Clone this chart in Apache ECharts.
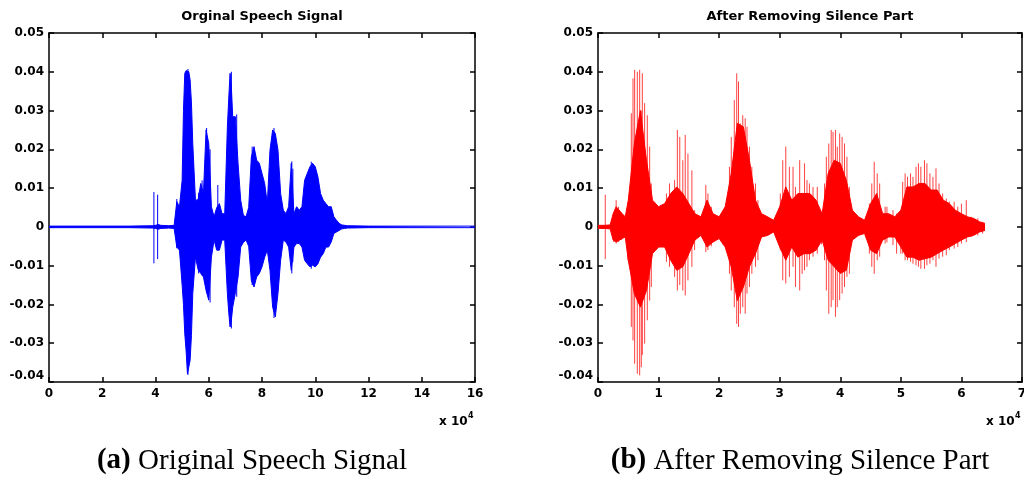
<!DOCTYPE html>
<html>
<head>
<meta charset="utf-8">
<script src="https://cdn.jsdelivr.net/npm/echarts@6/dist/echarts.min.js"></script>
<style>
  html, body { margin: 0; padding: 0; background: #fff; }
  #main { width: 1024px; height: 477px; }
</style>
</head>
<body>
<div id="main"></div>
<script>
// sample index in units of 1e4, amplitude envelopes
const leftPos = [0, 3.0, 3.9, 4.0, 4.1, 4.2, 4.5,
  4.7, 4.8, 4.9, 5.0, 5.05, 5.1, 5.15, 5.2, 5.25, 5.3, 5.35, 5.4, 5.5, 5.6, 5.7, 5.8, 5.9, 6.0,
  6.1, 6.2, 6.3, 6.4, 6.5, 6.6, 6.7, 6.75, 6.8, 6.85, 6.9, 7.0, 7.1, 7.2, 7.3, 7.4,
  7.5, 7.6, 7.7, 7.8, 7.9, 8.0, 8.1, 8.2, 8.3, 8.4, 8.5, 8.6, 8.7, 8.8,
  8.9, 9.0, 9.1, 9.2, 9.3, 9.4, 9.5, 9.6, 9.7, 9.8, 9.9, 10.0, 10.1, 10.2,
  10.3, 10.4, 10.5, 10.6, 10.7, 10.8, 10.9, 11.0, 11.1, 11.2, 12.0, 16.0]
const leftUpper = [0.0002, 0.0002, 0.0003, 0.0004, 0.0006, 0.0004, 0.0003,
  0.0004, 0.0065, 0.0052, 0.0120, 0.0300, 0.0396, 0.0403, 0.0405, 0.0400, 0.0379, 0.0320, 0.0215, 0.0069, 0.0070, 0.0112, 0.0086, 0.0250, 0.0215,
  0.0052, 0.0026, 0.0050, 0.0060, 0.0034, 0.0034, 0.0258, 0.0330, 0.0396, 0.0360, 0.0284, 0.0284, 0.0164, 0.0069, 0.0030, 0.0026,
  0.0050, 0.0180, 0.0207, 0.0172, 0.0164, 0.0138, 0.0112, 0.0060, 0.0198, 0.0250, 0.0241, 0.0198, 0.0086, 0.0043,
  0.0034, 0.0052, 0.0164, 0.0034, 0.0052, 0.0043, 0.0052, 0.0120, 0.0138, 0.0155, 0.0164, 0.0155, 0.0129, 0.0086,
  0.0069, 0.0060, 0.0052, 0.0052, 0.0026, 0.0017, 0.0009, 0.0005, 0.0004, 0.0003, 0.0002, 0.0002]
const leftLower = [-0.0002, -0.0002, -0.0003, -0.0004, -0.0006, -0.0004, -0.0003,
  -0.0004, -0.0052, -0.0060, -0.0150, -0.0200, -0.0276, -0.0320, -0.0379, -0.0380, -0.0344, -0.0280, -0.0172, -0.0078, -0.0110, -0.0120, -0.0129, -0.0164, -0.0189,
  -0.0078, -0.0034, -0.0060, -0.0060, -0.0034, -0.0034, -0.0172, -0.0220, -0.0258, -0.0240, -0.0207, -0.0170, -0.0130, -0.0052, -0.0040, -0.0034,
  -0.0050, -0.0138, -0.0155, -0.0129, -0.0120, -0.0103, -0.0078, -0.0060, -0.0112, -0.0207, -0.0232, -0.0172, -0.0086, -0.0034,
  -0.0039, -0.0052, -0.0112, -0.0052, -0.0043, -0.0043, -0.0052, -0.0086, -0.0095, -0.0103, -0.0099, -0.0103, -0.0095, -0.0078,
  -0.0069, -0.0052, -0.0052, -0.0039, -0.0017, -0.0013, -0.0009, -0.0005, -0.0004, -0.0003, -0.0002, -0.0002]
// [position, top, bottom] of isolated peaks
const leftSpikes = [
  [3.94, 0.0090, -0.0094], [4.08, 0.0083, -0.0083], [4.80, 0.0072, -0.0055], [5.22, 0.0407, -0.0382],
  [5.62, 0.0088, -0.0120], [5.75, 0.0120, -0.0125], [5.92, 0.0255, -0.0170], [6.05, 0.0200, -0.0195],
  [6.34, 0.0108, -0.0060], [6.85, 0.0400, -0.0262], [7.05, 0.0290, -0.0180], [7.63, 0.0207, -0.0150],
  [8.45, 0.0255, -0.0235], [9.12, 0.0169, -0.0120], [9.16, 0.0150, -0.0090], [9.85, 0.0168, -0.0108]
]

const rightPos = [0, 0.1, 0.2, 0.25, 0.3, 0.4, 0.45, 0.5, 0.6, 0.7, 0.8, 0.9,
  1.0, 1.1, 1.2, 1.3, 1.4, 1.5, 1.6, 1.7, 1.8, 1.9, 2.0, 2.1, 2.2, 2.3, 2.4,
  2.5, 2.6, 2.7, 2.8, 2.9, 3.0, 3.1, 3.2, 3.3, 3.4, 3.5, 3.6, 3.7, 3.8, 3.9,
  4.0, 4.1, 4.2, 4.3, 4.4, 4.5, 4.6, 4.7, 4.8, 4.9, 5.0, 5.1, 5.2, 5.3, 5.4,
  5.5, 5.6, 5.7, 5.8, 5.9, 6.0, 6.1, 6.2, 6.3, 6.39]
const rightUpper = [0.0004, 0.0004, 0.0005, 0.0034, 0.0052, 0.0034, 0.0026, 0.0069, 0.0215, 0.0300, 0.0172, 0.0069,
  0.0052, 0.0060, 0.0086, 0.0103, 0.0086, 0.0060, 0.0034, 0.0026, 0.0069, 0.0034, 0.0026, 0.0052, 0.0138, 0.0267, 0.0258,
  0.0172, 0.0069, 0.0034, 0.0026, 0.0017, 0.0052, 0.0103, 0.0069, 0.0086, 0.0086, 0.0086, 0.0069, 0.0034, 0.0138, 0.0172,
  0.0164, 0.0120, 0.0043, 0.0026, 0.0017, 0.0060, 0.0086, 0.0034, 0.0034, 0.0026, 0.0043, 0.0103, 0.0103, 0.0112, 0.0112,
  0.0095, 0.0095, 0.0069, 0.0060, 0.0043, 0.0034, 0.0026, 0.0022, 0.0013, 0.0009]
const rightLower = [-0.0004, -0.0004, -0.0005, -0.0034, -0.0039, -0.0030, -0.0026, -0.0086, -0.0172, -0.0207, -0.0164, -0.0069,
  -0.0052, -0.0052, -0.0086, -0.0112, -0.0103, -0.0069, -0.0034, -0.0022, -0.0052, -0.0039, -0.0030, -0.0052, -0.0103, -0.0190, -0.0155,
  -0.0103, -0.0069, -0.0026, -0.0022, -0.0013, -0.0052, -0.0086, -0.0052, -0.0078, -0.0069, -0.0069, -0.0060, -0.0034, -0.0086, -0.0103,
  -0.0120, -0.0112, -0.0034, -0.0022, -0.0017, -0.0060, -0.0069, -0.0034, -0.0026, -0.0026, -0.0052, -0.0078, -0.0078, -0.0086, -0.0082,
  -0.0078, -0.0069, -0.0060, -0.0052, -0.0043, -0.0034, -0.0026, -0.0022, -0.0013, -0.0009]
const rightSpikes = [
  [0.12, 0.0083, -0.0083], [0.26, 0.0034, -0.0039], [0.30, 0.0069, -0.0043], [0.34, 0.0052, -0.0039],
  [0.385, 0.0034, -0.0034], [0.495, 0.0060, -0.0086], [0.55, 0.0293, -0.0258], [0.578, 0.0383, -0.0293],
  [0.605, 0.0405, -0.0353], [0.649, 0.0400, -0.0379], [0.688, 0.0405, -0.0383], [0.715, 0.0300, -0.0362],
  [0.732, 0.0396, -0.0330], [0.77, 0.0319, -0.0301], [0.814, 0.0288, -0.0241], [0.853, 0.0207, -0.0190],
  [0.88, 0.0112, -0.0155], [1.13, 0.0086, -0.0090], [1.18, 0.0112, -0.0103], [1.265, 0.0121, -0.0129],
  [1.31, 0.0250, -0.0164], [1.35, 0.0232, -0.0150], [1.40, 0.0172, -0.0164], [1.44, 0.0237, -0.0177],
  [1.485, 0.0189, -0.0138], [1.55, 0.0146, -0.0103], [1.595, 0.0043, -0.0060], [1.78, 0.0108, -0.0065],
  [1.815, 0.0086, -0.0060], [1.87, 0.0052, -0.0050], [2.06, 0.0039, -0.0045], [2.17, 0.0155, -0.0121],
  [2.20, 0.0232, -0.0164], [2.25, 0.0327, -0.0207], [2.29, 0.0396, -0.0250], [2.32, 0.0375, -0.0258],
  [2.35, 0.0267, -0.0224], [2.39, 0.0288, -0.0207], [2.43, 0.0280, -0.0224], [2.46, 0.0258, -0.0172],
  [2.50, 0.0207, -0.0155], [2.54, 0.0155, -0.0121], [2.60, 0.0112, -0.0103], [2.64, 0.0069, -0.0086],
  [3.01, 0.0086, -0.0060], [3.05, 0.0172, -0.0138], [3.10, 0.0207, -0.0146], [3.16, 0.0155, -0.0129],
  [3.22, 0.0155, -0.0103], [3.26, 0.0103, -0.0155], [3.33, 0.0172, -0.0164], [3.37, 0.0086, -0.0121],
  [3.41, 0.0164, -0.0112], [3.45, 0.0121, -0.0103], [3.49, 0.0112, -0.0086], [3.55, 0.0103, -0.0077],
  [3.62, 0.0103, -0.0069], [3.69, 0.0034, -0.0045], [3.74, 0.0112, -0.0086], [3.77, 0.0181, -0.0164],
  [3.81, 0.0215, -0.0224], [3.85, 0.0250, -0.0207], [3.88, 0.0245, -0.0189], [3.92, 0.0250, -0.0232],
  [3.95, 0.0207, -0.0207], [3.99, 0.0241, -0.0189], [4.03, 0.0232, -0.0172], [4.07, 0.0215, -0.0155],
  [4.11, 0.0181, -0.0129], [4.15, 0.0103, -0.0121], [4.48, 0.0060, -0.0069], [4.52, 0.0112, -0.0103],
  [4.56, 0.0168, -0.0121], [4.61, 0.0138, -0.0086], [4.65, 0.0112, -0.0077], [4.74, 0.0052, -0.0043],
  [4.77, 0.0052, -0.0040], [4.87, 0.0043, -0.0047], [4.93, 0.0034, -0.0069], [5.00, 0.0043, -0.0069],
  [5.03, 0.0116, -0.0069], [5.07, 0.0138, -0.0086], [5.11, 0.0129, -0.0086], [5.16, 0.0138, -0.0090],
  [5.20, 0.0129, -0.0095], [5.25, 0.0155, -0.0099], [5.29, 0.0164, -0.0103], [5.33, 0.0155, -0.0108],
  [5.39, 0.0172, -0.0108], [5.43, 0.0164, -0.0099], [5.48, 0.0138, -0.0095], [5.53, 0.0129, -0.0086],
  [5.58, 0.0151, -0.0103], [5.63, 0.0112, -0.0082], [5.69, 0.0086, -0.0077], [5.75, 0.0073, -0.0073],
  [5.80, 0.0065, -0.0060], [5.88, 0.0065, -0.0056], [5.94, 0.0052, -0.0052], [6.00, 0.0060, -0.0043],
  [6.08, 0.0069, -0.0039], [6.16, 0.0026, -0.0026], [6.27, 0.0022, -0.0022], [6.35, 0.0013, -0.0017]
]

const yTicks = { min: -0.04, max: 0.05, interval: 0.01 }
const leftX = { min: 0, max: 16, interval: 2 }
const rightX = { min: 0, max: 7, interval: 1 }

const tickFont = { fontFamily: 'DejaVu Sans', fontWeight: 'bold', fontSize: 12, color: '#000' }
const boxLine = { show: true, onZero: false, lineStyle: { color: '#000', width: 1.5 } }
const boxTick = { show: true, inside: true, length: 5, lineStyle: { color: '#000', width: 1.5 } }

const zip = (xs, ys) => xs.map((x, i) => [x, ys[i]])

function xAxisOf(grid, range, pos) {
  return {
    type: 'value', gridIndex: grid, position: pos, ...range,
    axisLine: boxLine, axisTick: boxTick, splitLine: { show: false },
    axisLabel: pos === 'bottom' ? { ...tickFont, margin: 6 } : { show: false }
  }
}
function yAxisOf(grid, pos) {
  return {
    type: 'value', gridIndex: grid, position: pos, ...yTicks,
    axisLine: boxLine, axisTick: boxTick, splitLine: { show: false },
    axisLabel: pos === 'left' ? {
      ...tickFont, margin: 5, verticalAlignMinLabel: 'bottom',
      formatter: v => String(+v.toFixed(2))
    } : { show: false }
  }
}

function envelope(idx, data, color) {
  return {
    type: 'line', xAxisIndex: idx, yAxisIndex: idx, data: data,
    showSymbol: false, symbol: 'none', silent: true,
    lineStyle: { color: color, width: 1 },
    areaStyle: { color: color, opacity: 1, origin: 'auto' }
  }
}
function spikes(idx, data, color, opacity) {
  return {
    type: 'custom', xAxisIndex: idx, yAxisIndex: idx, data: data, silent: true,
    encode: { x: 0, y: [1, 2] },
    renderItem: (params, api) => {
      const a = api.coord([api.value(0), api.value(1)])
      const b = api.coord([api.value(0), api.value(2)])
      return {
        type: 'line',
        shape: { x1: a[0], y1: a[1], x2: b[0], y2: b[1] },
        style: { stroke: color, lineWidth: 1, opacity: opacity }
      }
    }
  }
}

function label(x, y, text, font, align) {
  return { type: 'text', x: x, y: y, silent: true,
    style: { text: text, font: font, fill: '#000', align: align, verticalAlign: 'middle',
      textAlign: align, textVerticalAlign: 'middle' } }
}
function caption(x, tag, text) {
  return { type: 'text', x: x, y: 461, silent: true,
    style: {
      text: '{b|' + tag + '}{n| ' + text + '}', align: 'center', verticalAlign: 'middle',
      textAlign: 'center', textVerticalAlign: 'middle',
      rich: {
        b: { fontFamily: 'Liberation Serif', fontWeight: 'bold', fontSize: 29, fill: '#000' },
        n: { fontFamily: 'Liberation Serif', fontSize: 29, fill: '#000' }
      }
    } }
}

const myChart = echarts.init(document.getElementById('main'), null, { renderer: 'canvas' })
let option = {
  animation: false,
  backgroundColor: '#fff',
  grid: [
    { left: 49, top: 33, width: 426, height: 349, outerBoundsMode: 'none' },
    { left: 598, top: 33, width: 424, height: 349, outerBoundsMode: 'none' }
  ],
  xAxis: [xAxisOf(0, leftX, 'bottom'), xAxisOf(1, rightX, 'bottom'), xAxisOf(0, leftX, 'top'), xAxisOf(1, rightX, 'top')],
  yAxis: [yAxisOf(0, 'left'), yAxisOf(1, 'left'), yAxisOf(0, 'right'), yAxisOf(1, 'right')],
  series: [
    envelope(0, zip(leftPos, leftUpper), '#0000ff'),
    envelope(0, zip(leftPos, leftLower), '#0000ff'),
    spikes(0, leftSpikes, '#0000ff', 1),
    envelope(1, zip(rightPos, rightUpper), '#ff0000'),
    envelope(1, zip(rightPos, rightLower), '#ff0000'),
    spikes(1, rightSpikes, '#ff0000', 0.75)
  ],
  graphic: [
    label(262, 17, 'Orginal Speech Signal', 'bold 13px "DejaVu Sans"', 'center'),
    label(810, 17, 'After Removing Silence Part', 'bold 13px "DejaVu Sans"', 'center'),
    label(439, 422, 'x 10', 'bold 12px "DejaVu Sans"', 'left'),
    label(468, 416, '4', 'bold 8px "DejaVu Sans"', 'left'),
    label(986, 422, 'x 10', 'bold 12px "DejaVu Sans"', 'left'),
    label(1015, 416, '4', 'bold 8px "DejaVu Sans"', 'left'),
    caption(252, '(a)', 'Original Speech Signal'),
    caption(800, '(b)', 'After Removing Silence Part')
  ]
}
myChart.setOption(option)
</script>
</body>
</html>
